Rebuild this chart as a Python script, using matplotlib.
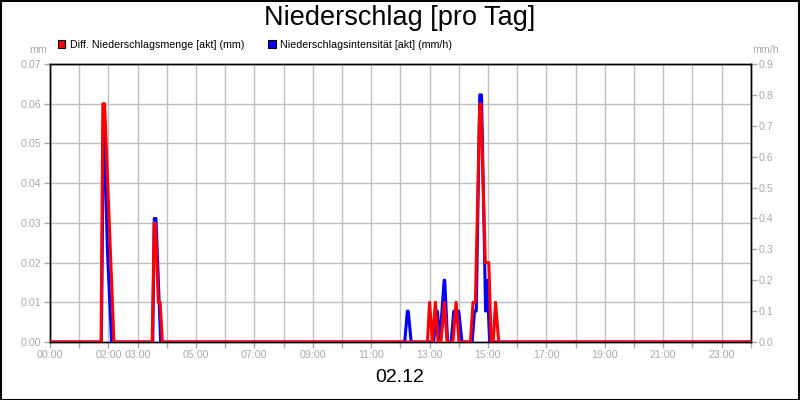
import matplotlib
matplotlib.use("Agg")
import matplotlib.pyplot as plt
from matplotlib.patches import Rectangle

# ---- data ----
red_hours = [0, 1.75, 1.81, 1.87, 2.19, 3.50, 3.57, 3.61, 3.71, 3.77, 3.85,
             12.93, 13.0, 13.1, 13.2, 13.29, 13.39, 13.51, 13.6, 13.8, 13.91,
             14.01, 14.4, 14.49, 14.57, 14.72, 14.76, 14.91, 15.03, 15.11,
             15.18, 15.26, 15.37, 24]
red_mm = [0, 0, 0.06, 0.06, 0, 0, 0.03, 0.03, 0.01, 0.01, 0,
          0, 0.01, 0, 0.01, 0, 0, 0.01, 0, 0, 0.01,
          0, 0, 0.01, 0.01, 0.06, 0.06, 0.02, 0.02, 0,
          0, 0.01, 0, 0]

blue_hours = [0, 1.76, 1.83, 1.86, 1.965, 2.11, 3.52, 3.57, 3.63, 3.79,
              12.15, 12.24, 12.27, 12.37, 13.14, 13.23, 13.27, 13.35,
              13.5, 13.52, 13.62, 13.74, 13.83, 14.0, 14.11,
              14.46, 14.54, 14.6, 14.72, 14.78, 14.92, 14.97, 15.06, 24]
blue_mmh = [0, 0, 0.7, 0.7, 0.3, 0, 0, 0.4, 0.4, 0,
            0, 0.1, 0.1, 0, 0, 0.1, 0.1, 0,
            0.2, 0.2, 0, 0, 0.1, 0.1, 0,
            0, 0.1, 0.1, 0.8, 0.8, 0.1, 0.2, 0, 0]

hour_ticks = list(range(25))
hour_labels = ["00:00", "", "02:00", "03:00", "", "05:00", "", "07:00", "",
               "09:00", "", "11:00", "", "13:00", "", "15:00", "", "17:00",
               "", "19:00", "", "21:00", "", "23:00", ""]
left_ticks = [0.00, 0.01, 0.02, 0.03, 0.04, 0.05, 0.06, 0.07]
right_ticks = [0.0, 0.1, 0.2, 0.3, 0.4, 0.5, 0.6, 0.7, 0.8, 0.9]

title = "Niederschlag [pro Tag]"
legend_red = "Diff. Niederschlagsmenge [akt] (mm)"
legend_blue = "Niederschlagsintensität [akt] (mm/h)"
date_label = "02.12"

# ---- style ----
plt.rcParams['font.family'] = ['Liberation Sans', 'DejaVu Sans']
GRAY = '#aaaaaa'
GRID = '#c0c0c0'
FS = 7.7

W, H = 800, 400
fig = plt.figure(figsize=(8, 4), dpi=100)
fig.patch.set_facecolor('white')

L, R, T, B = 50, 750.7, 64, 342
rect = [L / W, 1 - B / H, (R - L) / W, (B - T) / H]

ax = fig.add_axes(rect)
ax.set_xlim(0, 24)
ax.set_ylim(0, 0.07)
ax.set_xticks(hour_ticks)
ax.set_xticklabels(hour_labels)
ax.set_yticks(left_ticks)
ax.set_yticklabels([f"{v:.2f}" for v in left_ticks])
ax.grid(True, color=GRID, lw=1)
ax.set_axisbelow(True)
ax.tick_params(axis='both', colors=GRAY, labelcolor=GRAY, labelsize=FS,
               length=4, width=1, pad=2)
for s in ax.spines.values():
    s.set_color('black')
    s.set_linewidth(1)

ax2 = ax.twinx()
ax2.set_ylim(0, 0.9)
ax2.set_yticks(right_ticks)
ax2.set_yticklabels([f"{v:.1f}" for v in right_ticks])
ax2.tick_params(axis='y', colors=GRAY, labelcolor=GRAY, labelsize=FS,
                length=4, width=1, pad=2)
ax2.plot(blue_hours, blue_mmh, color='#0000ff', lw=2.2, solid_joinstyle='round')
for s in ax2.spines.values():
    s.set_color('black')
    s.set_linewidth(1)

ax3 = ax.twinx()
ax3.set_ylim(0, 0.07)
ax3.axis('off')
ax3.plot(red_hours, red_mm, color='#ff0000', lw=2.2, solid_joinstyle='round')

# texts
fig.text(0.5, 1 - 18 / H, title, ha='center', va='center', fontsize=19.5, color='black')
fig.text(47 / W, 1 - 50 / H, "mm", ha='right', va='center', fontsize=FS, color=GRAY)
fig.text(752 / W, 1 - 50 / H, "mm/h", ha='left', va='center', fontsize=FS, color=GRAY)
fig.text(0.5, 1 - 378 / H, date_label, ha='center', va='center', fontsize=14, color='black')

# legend
for x0, col, txt in [(58, '#ff0000', legend_red), (268, '#0000ff', legend_blue)]:
    fig.patches.append(Rectangle((x0 / W, 1 - 48 / H), 7.5 / W, 7.5 / H,
                                 transform=fig.transFigure, facecolor=col,
                                 edgecolor='black', lw=0.8))
    fig.text((x0 + 11.5) / W, 1 - 44.5 / H, txt, ha='left', va='center',
             fontsize=FS, color='black')

# figure border
fig.patches.append(Rectangle((0.5 / W, 0.5 / H), 1 - 1.5 / W, 1 - 1.5 / H,
                             transform=fig.transFigure, fill=False,
                             edgecolor='black', lw=1.5))

fig.savefig("out.png", dpi=100)
